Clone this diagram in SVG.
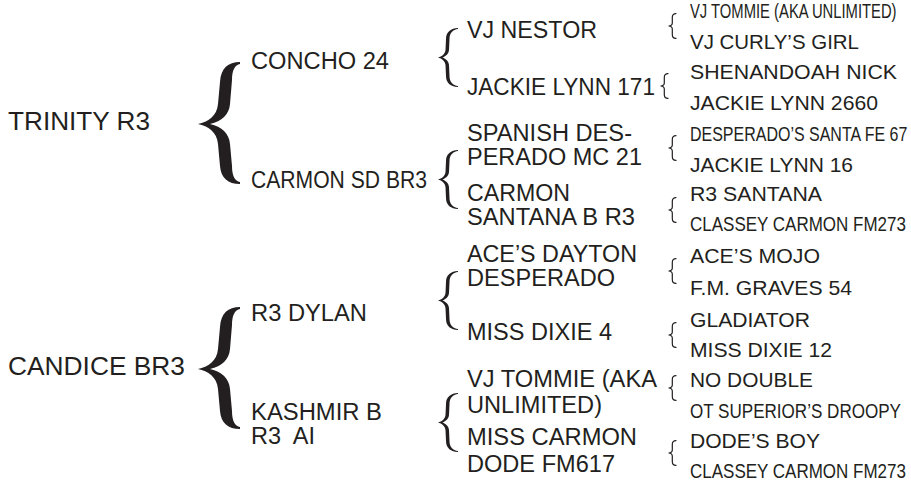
<svg xmlns="http://www.w3.org/2000/svg" width="911" height="484" viewBox="0 0 911 484">
<style>
text { font-family: "Liberation Sans", Arial, sans-serif; fill: #231f20; }
.c1 { font-size: 25.5px; }
.c2 { font-size: 23px; }
.c3 { font-size: 23px; }
.c4 { font-size: 21px; }
.c4n { font-size: 19.5px; }
.brace { fill: #231f20; }
.sb { fill: none; stroke: #231f20; stroke-width: 1.2; stroke-linecap: round; }
</style>
<defs>
<path id="bigBrace" class="brace" d="M42,0 C30,0 23,6 22,20 L20,42 C19,54 10,60 0,62 C10,64 19,70 20,82 L22,104 C23,116 30,122 42,122 L42,120 C37,119 34,114 34,104 L32,82 C31,71 24,65 12,62 C24,59 31,53 32,42 L34,18 C34,8 37,3 42,2 Z"/>
<path id="midBrace" class="brace" d="M20,0 C13,0 8,4 8,11 L7.5,22 C7,26 4,28.5 0,29.5 C4,30.5 7,33 7.5,37 L8,48 C8,55 13,59 20,59 L20,58 C15,57.5 11.5,54 11.5,48 L11,37 C10.5,33 8,31 4.5,29.5 C8,28 10.5,26 11,22 L11.5,11 C11.5,5 15,1.5 20,1 Z"/>
<path id="smallBrace" class="sb" d="M8,0.6 C5.5,0.6 4.3,2 4.3,4.5 L4.3,10 C4.3,12 2.8,12.8 0.6,13 C2.8,13.2 4.3,14 4.3,16 L4.3,21.5 C4.3,24 5.5,25.4 8,25.4"/>
</defs>

<g id="connectors">
<use href="#bigBrace" x="198" y="62"/>
<use href="#bigBrace" x="198" y="307"/>
<use href="#midBrace" x="438" y="28"/>
<use href="#midBrace" x="438" y="150"/>
<use href="#midBrace" x="438" y="271"/>
<use href="#midBrace" x="438" y="393"/>
<use href="#smallBrace" x="668" y="13"/>
<use href="#smallBrace" x="660" y="73"/>
<use href="#smallBrace" x="668" y="135"/>
<use href="#smallBrace" x="668" y="197"/>
<use href="#smallBrace" x="668" y="258"/>
<use href="#smallBrace" x="668" y="322"/>
<use href="#smallBrace" x="668" y="375"/>
<use href="#smallBrace" x="668" y="440"/>
</g>

<g id="trinity"><text class="c1" x="8" y="130" textLength="142" lengthAdjust="spacingAndGlyphs">TRINITY R3</text></g>
<g id="candice"><text class="c1" x="8" y="375" textLength="177" lengthAdjust="spacingAndGlyphs">CANDICE BR3</text></g>

<g id="concho"><text class="c2" x="251" y="69" textLength="138" lengthAdjust="spacingAndGlyphs">CONCHO 24</text></g>
<g id="carmon-sd"><text class="c2" x="251" y="188" textLength="176" lengthAdjust="spacingAndGlyphs">CARMON SD BR3</text></g>
<g id="r3-dylan"><text class="c2" x="251" y="321" textLength="116" lengthAdjust="spacingAndGlyphs">R3 DYLAN</text></g>
<g id="kashmir"><text class="c2" x="251" y="420" textLength="131" lengthAdjust="spacingAndGlyphs">KASHMIR B</text><text class="c2" x="251" y="444" xml:space="preserve" textLength="64" lengthAdjust="spacingAndGlyphs">R3  AI</text></g>

<g id="vj-nestor"><text class="c3" x="467" y="38" textLength="130" lengthAdjust="spacingAndGlyphs">VJ NESTOR</text></g>
<g id="jackie-171"><text class="c3" x="467" y="95" textLength="188" lengthAdjust="spacingAndGlyphs">JACKIE LYNN 171</text></g>
<g id="spanish"><text class="c3" x="467" y="141" textLength="165" lengthAdjust="spacingAndGlyphs">SPANISH DES-</text><text class="c3" x="467" y="165" textLength="175" lengthAdjust="spacingAndGlyphs">PERADO MC 21</text></g>
<g id="carmon-santana"><text class="c3" x="467" y="201" textLength="103" lengthAdjust="spacingAndGlyphs">CARMON</text><text class="c3" x="467" y="225" textLength="168" lengthAdjust="spacingAndGlyphs">SANTANA B R3</text></g>
<g id="aces-dayton"><text class="c3" x="467" y="262" textLength="170" lengthAdjust="spacingAndGlyphs">ACE’S DAYTON</text><text class="c3" x="467" y="286" textLength="148" lengthAdjust="spacingAndGlyphs">DESPERADO</text></g>
<g id="miss-dixie-4"><text class="c3" x="467" y="340" textLength="145" lengthAdjust="spacingAndGlyphs">MISS DIXIE 4</text></g>
<g id="vj-tommie-3"><text class="c3" x="467" y="387" textLength="190" lengthAdjust="spacingAndGlyphs">VJ TOMMIE (AKA</text><text class="c3" x="467" y="413" textLength="135" lengthAdjust="spacingAndGlyphs">UNLIMITED)</text></g>
<g id="miss-carmon"><text class="c3" x="467" y="445" textLength="170" lengthAdjust="spacingAndGlyphs">MISS CARMON</text><text class="c3" x="467" y="472" textLength="148" lengthAdjust="spacingAndGlyphs">DODE FM617</text></g>

<g id="vj-tommie-4"><text class="c4n" transform="translate(690,18) scale(0.759,1)">VJ TOMMIE (AKA UNLIMITED)</text></g>
<g id="vj-curly"><text class="c4" x="690" y="49" textLength="169" lengthAdjust="spacingAndGlyphs">VJ CURLY’S GIRL</text></g>
<g id="shenandoah"><text class="c4" x="690" y="79" textLength="207" lengthAdjust="spacingAndGlyphs">SHENANDOAH NICK</text></g>
<g id="jackie-2660"><text class="c4" x="690" y="110" textLength="188" lengthAdjust="spacingAndGlyphs">JACKIE LYNN 2660</text></g>
<g id="desperados"><text class="c4n" transform="translate(690,141) scale(0.82,1)">DESPERADO’S SANTA FE 67</text></g>
<g id="jackie-16"><text class="c4" x="690" y="172" textLength="163" lengthAdjust="spacingAndGlyphs">JACKIE LYNN 16</text></g>
<g id="r3-santana"><text class="c4" x="690" y="201" textLength="132" lengthAdjust="spacingAndGlyphs">R3 SANTANA</text></g>
<g id="classey-1"><text class="c4n" transform="translate(690,231) scale(0.872,1)">CLASSEY CARMON FM273</text></g>
<g id="aces-mojo"><text class="c4" x="690" y="263" textLength="130" lengthAdjust="spacingAndGlyphs">ACE’S MOJO</text></g>
<g id="fm-graves"><text class="c4" x="690" y="295" textLength="162" lengthAdjust="spacingAndGlyphs">F.M. GRAVES 54</text></g>
<g id="gladiator"><text class="c4" x="690" y="327" textLength="120" lengthAdjust="spacingAndGlyphs">GLADIATOR</text></g>
<g id="miss-dixie-12"><text class="c4" x="690" y="357" textLength="142" lengthAdjust="spacingAndGlyphs">MISS DIXIE 12</text></g>
<g id="no-double"><text class="c4" x="690" y="387" textLength="123" lengthAdjust="spacingAndGlyphs">NO DOUBLE</text></g>
<g id="ot-superior"><text class="c4n" transform="translate(690,418) scale(0.875,1)">OT SUPERIOR’S DROOPY</text></g>
<g id="dodes-boy"><text class="c4" x="690" y="448" textLength="130" lengthAdjust="spacingAndGlyphs">DODE’S BOY</text></g>
<g id="classey-2"><text class="c4n" transform="translate(690,478) scale(0.872,1)">CLASSEY CARMON FM273</text></g>
</svg>
